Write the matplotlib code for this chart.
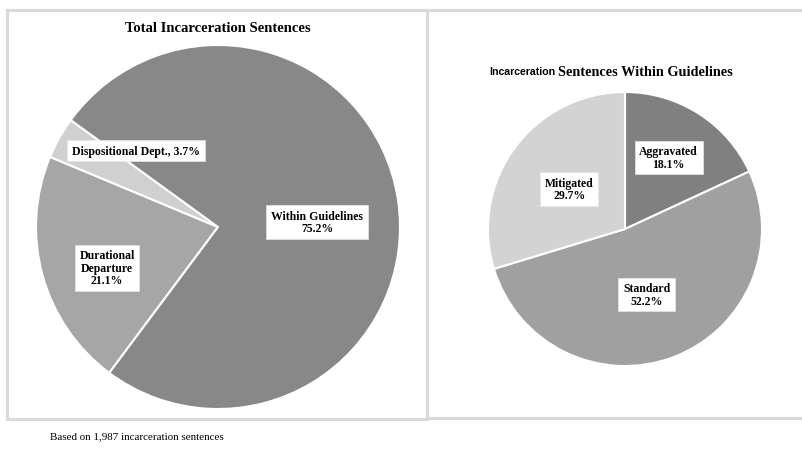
import matplotlib
matplotlib.use("Agg")
import matplotlib.pyplot as plt
from matplotlib.patches import Rectangle

# Total incarceration sentences by type
total_labels = ["Durational\nDeparture", "Dispositional Dept.,", "Within Guidelines"]
total_values = [21.1, 3.7, 75.2]
total_colors = ["#a6a6a6", "#d0d0d0", "#888888"]

# Sentences within guidelines by type
within_labels = ["Aggravated", "Standard", "Mitigated"]
within_values = [18.1, 52.2, 29.7]
within_colors = ["#808080", "#a0a0a0", "#d3d3d3"]

n_sentences = 1987

W, H = 802, 452
fig = plt.figure(figsize=(W / 100, H / 100), dpi=100)
fig.patch.set_facecolor("white")

SERIF = "Liberation Serif"
SANS = "Liberation Sans"


def px_axes(cx, cy, r):
    """Square axes centred at pixel (cx, cy) from top-left, radius r px."""
    return fig.add_axes([(cx - r) / W, (H - cy - r) / H, 2 * r / W, 2 * r / H])


# Panel frames
for x0, y0, x1, y1 in [(7, 11, 427, 420), (427, 11, 805, 419)]:
    fig.patches.append(Rectangle((x0 / W, 1 - y1 / H), (x1 - x0) / W, (y1 - y0) / H,
                                 transform=fig.transFigure, fill=False,
                                 edgecolor="#dadada", linewidth=2.2, zorder=0))

box = dict(boxstyle="square,pad=0.4", facecolor="white", edgecolor="#e6e6e6", linewidth=0.5)

# Left pie
ax1 = px_axes(218, 228, 182)
ax1.pie(total_values, colors=total_colors, startangle=233.3, counterclock=False,
        radius=1, wedgeprops=dict(edgecolor="white", linewidth=1.5))
ax1.set_xlim(-1.0, 1.0)
ax1.set_ylim(-1.0, 1.0)
total_label_pos = [(-0.61, -0.225), (-0.45, 0.42), (0.544, 0.027)]
for name, val, (lx, ly) in zip(total_labels, total_values, total_label_pos):
    sep = " " if name.endswith(",") else "\n"
    ax1.text(lx, ly, f"{name}{sep}{val:.1f}%", ha="center", va="center",
             fontsize=8.5, fontweight="bold", family=SERIF, linespacing=1.05,
             bbox=box, zorder=5)

fig.text(218 / W, 1 - 28 / H, "Total Incarceration Sentences", ha="center", va="center",
         fontsize=10.5, fontweight="bold", family=SERIF)

# Right pie
ax2 = px_axes(625, 230, 137)
ax2.pie(within_values, colors=within_colors, startangle=90, counterclock=False,
        radius=1, wedgeprops=dict(edgecolor="white", linewidth=1.5))
ax2.set_xlim(-1.0, 1.0)
ax2.set_ylim(-1.0, 1.0)
within_label_pos = [(0.319, 0.522), (0.159, -0.478), (-0.406, 0.29)]
for name, val, (lx, ly) in zip(within_labels, within_values, within_label_pos):
    ax2.text(lx, ly, f"{name}\n{val:.1f}%", ha="center", va="center",
             fontsize=8.5, fontweight="bold", family=SERIF, linespacing=1.05,
             bbox=box, zorder=5)

fig.text(555 / W, 1 - 72 / H, "Incarceration", ha="right", va="center",
         fontsize=7.6, fontweight="bold", family=SANS)
fig.text(558 / W, 1 - 72 / H, "Sentences Within Guidelines", ha="left", va="center",
         fontsize=10.3, fontweight="bold", family=SERIF)

fig.text(50 / W, 1 - 437 / H, f"Based on {n_sentences:,} incarceration sentences",
         ha="left", va="center", fontsize=7.9, family=SERIF)

fig.savefig("out.png", dpi=100, facecolor="white")
